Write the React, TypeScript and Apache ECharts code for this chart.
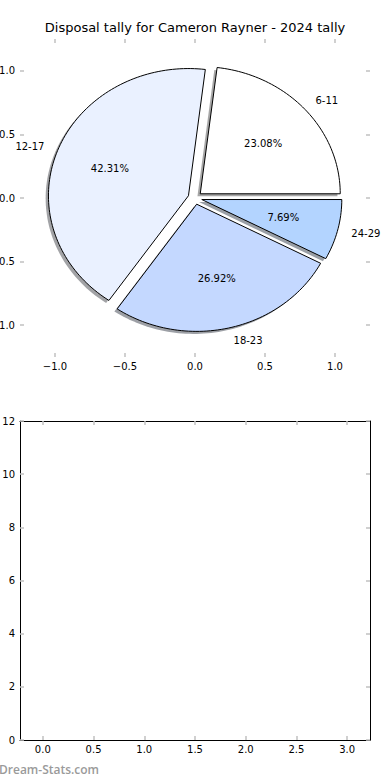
import React, { useEffect, useRef } from "react";
import * as echarts from "echarts";

// ---- data ----
const categories = ["6-11", "12-17", "18-23", "24-29"];
const counts = [6, 11, 7, 2];
const pieTicks = [-1, -0.5, 0, 0.5, 1];
const barXTicks = [0, 0.5, 1, 1.5, 2, 2.5, 3];
const barYTicks = [0, 2, 4, 6, 8, 10, 12];
const titleText = "Disposal tally for Cameron Rayner - 2024 tally";
const watermark = "Dream-Stats.com";

// ---- style ----
const sliceColors = ["#ffffff", "#eaf1ff", "#c4d8ff", "#b3d4ff"];
const FONT = "DejaVu Sans";
const TICK_COLOR = "#c0c0c0";
const EXPLODE = 0.05;
const R = 1;
const LABEL_DIST = 1.1;
const PCT_DIST = 0.6;
const SHADOW_OFF = -0.02;

const total = counts.reduce((a, b) => a + b, 0);
const startAngles: number[] = [];
const endAngles: number[] = [];
{
  let acc = 0;
  counts.forEach((c) => {
    startAngles.push((acc / total) * 360);
    acc += c;
    endAngles.push((acc / total) * 360);
  });
}

const toRad = (d: number) => (d * Math.PI) / 180;
const fmtNum = (v: number, d: number) =>
  (v < 0 ? "\u2212" : "") + Math.abs(v).toFixed(d);

function wedgePoints(i: number, api: any, dx: number, dy: number) {
  const t1 = startAngles[i];
  const t2 = endAngles[i];
  const mid = toRad((t1 + t2) / 2);
  const cx = EXPLODE * Math.cos(mid) + dx;
  const cy = EXPLODE * Math.sin(mid) + dy;
  const pts: number[][] = [api.coord([cx, cy])];
  const steps = Math.max(8, Math.ceil((t2 - t1) / 1.5));
  for (let k = 0; k <= steps; k++) {
    const a = toRad(t1 + ((t2 - t1) * k) / steps);
    pts.push(api.coord([cx + R * Math.cos(a), cy + R * Math.sin(a)]));
  }
  return pts;
}

function shadowColor(hex: string) {
  const n = parseInt(hex.slice(1), 16);
  const r = Math.round(((n >> 16) & 255) * 0.3);
  const g = Math.round(((n >> 8) & 255) * 0.3);
  const b = Math.round((n & 255) * 0.3);
  return `rgba(${r},${g},${b},0.5)`;
}

const tickStyle = (values: number[], show = true) => ({
  show,
  inside: true,
  length: 4,
  customValues: values,
  lineStyle: { color: TICK_COLOR, width: 1.5 },
});

export default function App() {
  const ref = useRef<HTMLDivElement>(null);

  useEffect(() => {
    if (!ref.current) return;
    const chart = echarts.init(ref.current, null, { renderer: "svg" });

    const labelBase = { color: "#000", fontSize: 10, fontFamily: FONT };

    const option: any = {
      animation: false,
      backgroundColor: "#fff",
      title: {
        text: titleText,
        left: 195,
        textAlign: "center",
        top: 21,
        padding: 0,
        textStyle: { fontSize: 13, fontWeight: "normal", color: "#000", fontFamily: FONT },
      },
      grid: [
        { left: 20, top: 39, width: 350, height: 318, outerBoundsMode: "none", containLabel: false },
        { left: 20, top: 421, width: 350, height: 319, outerBoundsMode: "none", containLabel: false },
      ],
      xAxis: [
        {
          gridIndex: 0, type: "value", min: -1.25, max: 1.25, position: "bottom",
          axisLine: { show: false, onZero: false }, splitLine: { show: false },
          axisTick: tickStyle(pieTicks),
          axisLabel: { ...labelBase, margin: 4, customValues: pieTicks, formatter: (v: number) => fmtNum(v, 1) },
        },
        {
          gridIndex: 0, type: "value", min: -1.25, max: 1.25, position: "top",
          axisLine: { show: false, onZero: false }, splitLine: { show: false },
          axisTick: tickStyle(pieTicks), axisLabel: { show: false },
        },
        {
          gridIndex: 1, type: "value", min: -0.225, max: 3.225, position: "bottom",
          axisLine: { show: true, onZero: false, lineStyle: { color: "#000", width: 1 } },
          splitLine: { show: false },
          axisTick: tickStyle(barXTicks),
          axisLabel: { ...labelBase, margin: 4, customValues: barXTicks, formatter: (v: number) => fmtNum(v, 1) },
        },
        {
          gridIndex: 1, type: "value", min: -0.225, max: 3.225, position: "top",
          axisLine: { show: true, onZero: false, lineStyle: { color: "#000", width: 1 } },
          splitLine: { show: false },
          axisTick: tickStyle(barXTicks), axisLabel: { show: false },
        },
      ],
      yAxis: [
        {
          gridIndex: 0, type: "value", min: -1.25, max: 1.25, position: "left",
          axisLine: { show: false, onZero: false }, splitLine: { show: false },
          axisTick: tickStyle(pieTicks),
          axisLabel: { ...labelBase, margin: 5, customValues: pieTicks, formatter: (v: number) => fmtNum(v, 1) },
        },
        {
          gridIndex: 0, type: "value", min: -1.25, max: 1.25, position: "right",
          axisLine: { show: false, onZero: false }, splitLine: { show: false },
          axisTick: tickStyle(pieTicks), axisLabel: { show: false },
        },
        {
          gridIndex: 1, type: "value", min: 0, max: 12, position: "left",
          axisLine: { show: true, onZero: false, lineStyle: { color: "#000", width: 1 } },
          splitLine: { show: false },
          axisTick: tickStyle(barYTicks),
          axisLabel: { ...labelBase, margin: 5, customValues: barYTicks, formatter: (v: number) => String(v) },
        },
        {
          gridIndex: 1, type: "value", min: 0, max: 12, position: "right",
          axisLine: { show: true, onZero: false, lineStyle: { color: "#000", width: 1 } },
          splitLine: { show: false },
          axisTick: tickStyle(barYTicks), axisLabel: { show: false },
        },
      ],
      series: [
        {
          type: "custom",
          name: "shadow",
          coordinateSystem: "cartesian2d",
          xAxisIndex: 0,
          yAxisIndex: 0,
          clip: false,
          silent: true,
          data: counts.map((c, i) => [i, c]),
          renderItem: (params: any, api: any) => {
            const i = params.dataIndex;
            return {
              type: "polygon",
              shape: { points: wedgePoints(i, api, SHADOW_OFF, SHADOW_OFF) },
              style: { fill: shadowColor(sliceColors[i]), stroke: "none" },
            };
          },
        },
        {
          type: "custom",
          name: "Disposals",
          coordinateSystem: "cartesian2d",
          xAxisIndex: 0,
          yAxisIndex: 0,
          clip: false,
          data: counts.map((c, i) => [i, c]),
          renderItem: (params: any, api: any) => {
            const i = params.dataIndex;
            const t1 = startAngles[i];
            const t2 = endAngles[i];
            const mid = toRad((t1 + t2) / 2);
            const cx = EXPLODE * Math.cos(mid);
            const cy = EXPLODE * Math.sin(mid);
            const lx = cx + LABEL_DIST * R * Math.cos(mid);
            const ly = cy + LABEL_DIST * R * Math.sin(mid);
            const px = cx + PCT_DIST * R * Math.cos(mid);
            const py = cy + PCT_DIST * R * Math.sin(mid);
            const lp = api.coord([lx, ly]);
            const pp = api.coord([px, py]);
            const pct = ((counts[i] / total) * 100).toFixed(2) + "%";
            return {
              type: "group",
              children: [
                {
                  type: "polygon",
                  shape: { points: wedgePoints(i, api, 0, 0) },
                  style: { fill: sliceColors[i], stroke: "#000", lineWidth: 1, lineJoin: "miter" },
                },
                {
                  type: "text",
                  style: {
                    x: lp[0], y: lp[1], text: categories[i],
                    fill: "#000", fontSize: 10, fontFamily: FONT,
                    align: lx > 0 ? "left" : "right", verticalAlign: "middle",
                  },
                },
                {
                  type: "text",
                  style: {
                    x: pp[0], y: pp[1], text: pct,
                    fill: "#000", fontSize: 10, fontFamily: FONT,
                    align: "center", verticalAlign: "middle",
                  },
                },
              ],
            };
          },
        },
      ],
      graphic: [
        {
          type: "text",
          left: -1,
          top: 763,
          style: {
            text: watermark,
            fill: "#9a9a9a",
            fontSize: 12,
            fontWeight: 600,
            fontFamily: "Open Sans",
          },
        },
      ],
    };

    chart.setOption(option);
    return () => chart.dispose();
  }, []);

  return (
    <div
      ref={ref}
      style={{ position: "absolute", left: 0, top: 0, width: 390, height: 780 }}
    />
  );
}
